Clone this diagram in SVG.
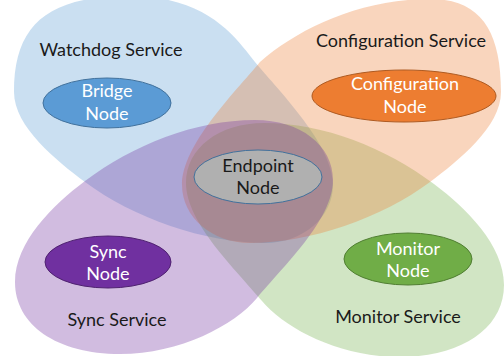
<svg xmlns="http://www.w3.org/2000/svg" width="504" height="356" viewBox="0 0 504 356">
<style>
.svc{fill-opacity:0.32;stroke:none}
.lbl{font-family:Lato,"Liberation Sans",sans-serif;font-size:18px;text-anchor:middle;fill:#1a1a1a}
.nt{font-family:Lato,"Liberation Sans",sans-serif;font-size:18px;text-anchor:middle;fill:#ffffff}
.node{stroke-width:1}
</style>
<rect width="504" height="356" fill="#ffffff"/>
<g id="services">
<path id="watchdog-service" class="svc" fill="#5b9bd5" d="M14,92 C14,25 47,-4 130,-4 C210,-4 238,41 255,62 C280.6,92.8 333,145 333,185 C333,217 303,243 265,243 C205,243 133,218 85,182 C57,161 14,127 14,92 Z"/>
<path id="monitor-service" class="svc" fill="#70ad47" transform="matrix(-1 0 0 1 519 3)" d="M15,282 C15,242 53,205 85,181 C133,145 195,120 255,120 C300,120 333,145 333,180 C333,220 282.6,267 257,298 C234.6,325 180,354 120,354 C57,354 15,325 15,282 Z"/>
<path id="configuration-service" class="svc" fill="#ed7d31" d="M501,92 C501,30 480,-1 430,-1 C360,-1 297.5,29 260,62 C234.4,92.8 182,145 182,185 C182,217 212,243 250,243 C310,243 382,218 430,182 C458,161 501,127 501,92 Z"/>
<path id="sync-service" class="svc" fill="#7030a0" d="M15,282 C15,242 53,205 85,181 C133,145 195,120 255,120 C300,120 333,145 333,180 C333,220 282.6,267 257,298 C234.6,325 180,354 120,354 C57,354 15,325 15,282 Z"/>
</g>
<g id="service-labels">
<text class="lbl" x="111" y="56">Watchdog Service</text>
<text class="lbl" x="401" y="47">Configuration Service</text>
<text class="lbl" x="117" y="326">Sync Service</text>
<text class="lbl" x="398" y="323">Monitor Service</text>
</g>
<g id="bridge-node">
<ellipse class="node" cx="107" cy="103" rx="64" ry="25" fill="#5b9bd5" stroke="#41719c"/>
<text class="nt" x="107" y="97">Bridge</text>
<text class="nt" x="107" y="120">Node</text>
</g>
<g id="configuration-node">
<ellipse class="node" cx="404" cy="96" rx="92" ry="26" fill="#ed7d31" stroke="#ae5a21"/>
<text class="nt" x="405" y="90">Configuration</text>
<text class="nt" x="405" y="113">Node</text>
</g>
<g id="endpoint-node">
<ellipse class="node" cx="258" cy="177" rx="64" ry="27" fill="#b0b0b0" stroke="#41719c"/>
<text class="lbl" x="258" y="172">Endpoint</text>
<text class="lbl" x="258" y="194">Node</text>
</g>
<g id="sync-node">
<ellipse class="node" cx="108" cy="262" rx="63" ry="26" fill="#7030a0" stroke="#4f2270"/>
<text class="nt" x="108" y="258">Sync</text>
<text class="nt" x="108" y="280">Node</text>
</g>
<g id="monitor-node">
<ellipse class="node" cx="408" cy="259" rx="64" ry="26" fill="#70ad47" stroke="#507e32"/>
<text class="nt" x="408" y="255">Monitor</text>
<text class="nt" x="408" y="277">Node</text>
</g>
<g id="connectors"></g>
</svg>
